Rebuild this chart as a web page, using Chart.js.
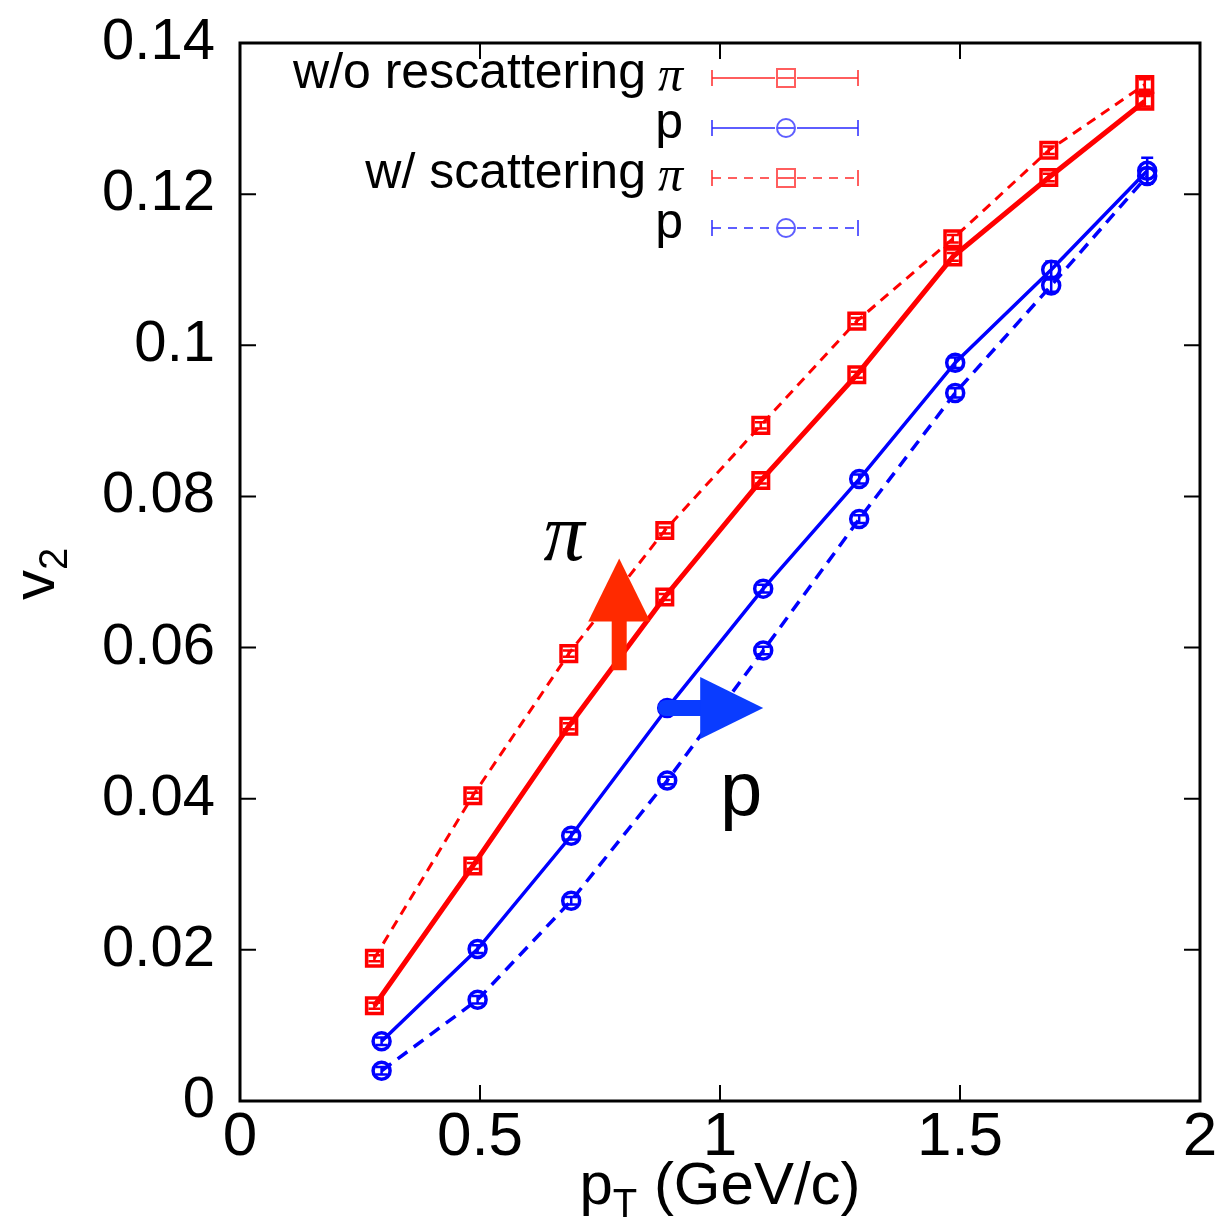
<!DOCTYPE html>
<html>
<head>
<meta charset="utf-8">
<script src="https://cdn.jsdelivr.net/npm/chart.js@4/dist/chart.umd.min.js"></script>
<style>
  html, body { margin: 0; padding: 0; background: #ffffff; }
  #wrap { width: 1228px; height: 1221px; position: relative; }
</style>
</head>
<body>
<div id="wrap"><canvas id="c"></canvas></div>
<script>
// ---- data ----
const piX = [0.28, 0.485, 0.685, 0.885, 1.085, 1.285, 1.485, 1.685, 1.885];
const pX  = [0.295, 0.495, 0.69, 0.89, 1.09, 1.29, 1.49, 1.69, 1.89];

const piNoResc   = [0.0126, 0.0311, 0.0496, 0.0667, 0.0821, 0.0961, 0.1117, 0.1222, 0.1323];
const pNoResc    = [0.0079, 0.0201, 0.0351, 0.0520, 0.0678, 0.0823, 0.0977, 0.1100, 0.1231];
const piResc     = [0.0189, 0.0404, 0.0592, 0.0755, 0.0894, 0.1032, 0.1141, 0.1258, 0.1345];
const pResc      = [0.0040, 0.0134, 0.0265, 0.0424, 0.0596, 0.0770, 0.0937, 0.1079, 0.1224];

const piNoRescErr = [0.0004, 0.0004, 0.0004, 0.0004, 0.0004, 0.0004, 0.0005, 0.0005, 0.0007];
const pNoRescErr  = [0.0005, 0.0005, 0.0005, 0.0005, 0.0005, 0.0006, 0.0007, 0.0011, 0.0017];
const piRescErr   = [0.0004, 0.0004, 0.0004, 0.0004, 0.0004, 0.0004, 0.0005, 0.0005, 0.0007];
const pRescErr    = [0.0005, 0.0005, 0.0005, 0.0005, 0.0005, 0.0005, 0.0006, 0.0008, 0.0010];

const seriesNames = ["w/o rescattering π", "w/o rescattering p", "w/ scattering π", "w/ scattering p"];
const legendGroups = ["w/o rescattering", "", "w/ scattering", ""];
const legendSpecies = ["π", "p", "π", "p"];

const xTicks = [0, 0.5, 1, 1.5, 2];
const xTickLabels = ["0", "0.5", "1", "1.5", "2"];
const yTicks = [0, 0.02, 0.04, 0.06, 0.08, 0.1, 0.12, 0.14];
const yTickLabels = ["0", "0.02", "0.04", "0.06", "0.08", "0.1", "0.12", "0.14"];

const xTitleMain = "p", xTitleSub = "T", xTitleRest = " (GeV/c)";
const yTitleMain = "v", yTitleSub = "2";

// annotations (data units)
const piArrow = { x: 0.79, yFrom: 0.0570, yTo: 0.0718 };
const pArrow  = { y: 0.0520, xFrom: 0.887, xTo: 1.09 };
const piLabel = { text: "π", x: 0.675, y: 0.0745 };
const pLabel  = { text: "p", x: 1.0, y: 0.0378 };

const RED = "#ff0000", BLUE = "#0000ff";

function pts(xs, ys) { return xs.map((x, i) => ({ x: x, y: ys[i] })); }

const datasets = [
  { label: seriesNames[0], data: pts(piX, piNoResc), err: piNoRescErr,
    borderColor: RED, borderWidth: 5, pointStyle: 'rect', pointRadius: 11,
    pointBorderWidth: 3.5, pointBorderColor: RED, pointBackgroundColor: 'rgba(0,0,0,0)',
    showLine: true, order: 2, legendDash: [] },
  { label: seriesNames[1], data: pts(pX, pNoResc), err: pNoRescErr,
    borderColor: BLUE, borderWidth: 3.5, pointStyle: 'circle', pointRadius: 8.5,
    pointBorderWidth: 3.5, pointBorderColor: BLUE, pointBackgroundColor: 'rgba(0,0,0,0)',
    showLine: true, order: 1, legendDash: [] },
  { label: seriesNames[2], data: pts(piX, piResc), err: piRescErr,
    borderColor: RED, borderWidth: 3, borderDash: [10, 7], pointStyle: 'rect', pointRadius: 11,
    pointBorderWidth: 3.5, pointBorderColor: RED, pointBackgroundColor: 'rgba(0,0,0,0)',
    showLine: true, order: 3, legendDash: [9, 7] },
  { label: seriesNames[3], data: pts(pX, pResc), err: pRescErr,
    borderColor: BLUE, borderWidth: 3.5, borderDash: [12, 8], pointStyle: 'circle', pointRadius: 8.5,
    pointBorderWidth: 3.5, pointBorderColor: BLUE, pointBackgroundColor: 'rgba(0,0,0,0)',
    showLine: true, order: 4, legendDash: [9, 7] }
];

const decorPlugin = {
  id: 'decor',
  beforeDatasetsDraw(chart) {
    const ctx = chart.ctx, xs = chart.scales.x, ys = chart.scales.y;
    chart.data.datasets.forEach(ds => {
      ctx.save();
      ctx.strokeStyle = ds.borderColor;
      ctx.lineWidth = 2.5;
      ds.data.forEach((p, i) => {
        const e = ds.err[i];
        const px = xs.getPixelForValue(p.x);
        const y1 = ys.getPixelForValue(p.y - e), y2 = ys.getPixelForValue(p.y + e);
        ctx.beginPath();
        ctx.moveTo(px, y1); ctx.lineTo(px, y2);
        ctx.moveTo(px - 6, y1); ctx.lineTo(px + 6, y1);
        ctx.moveTo(px - 6, y2); ctx.lineTo(px + 6, y2);
        ctx.stroke();
      });
      ctx.restore();
    });
  },
  afterDraw(chart) {
    const ctx = chart.ctx, a = chart.chartArea, xs = chart.scales.x, ys = chart.scales.y;
    ctx.save();
    ctx.strokeStyle = '#000';
    ctx.lineWidth = 3;
    ctx.strokeRect(a.left, a.top, a.right - a.left, a.bottom - a.top);
    ctx.lineWidth = 2;
    const tl = 16;
    xs.ticks.forEach(t => {
      const px = xs.getPixelForValue(t.value);
      ctx.beginPath();
      ctx.moveTo(px, a.bottom); ctx.lineTo(px, a.bottom - tl);
      ctx.moveTo(px, a.top); ctx.lineTo(px, a.top + tl);
      ctx.stroke();
    });
    ys.ticks.forEach(t => {
      const py = ys.getPixelForValue(t.value);
      ctx.beginPath();
      ctx.moveTo(a.left, py); ctx.lineTo(a.left + tl, py);
      ctx.moveTo(a.right, py); ctx.lineTo(a.right - tl, py);
      ctx.stroke();
    });

    // axis titles with subscripts
    ctx.fillStyle = '#000';
    ctx.textBaseline = 'alphabetic';
    ctx.textAlign = 'left';
    const mainF = '60px "Liberation Sans", Arial, sans-serif';
    const subF = '40px "Liberation Sans", Arial, sans-serif';
    ctx.font = mainF; const w1 = ctx.measureText(xTitleMain).width;
    ctx.font = subF; const w2 = ctx.measureText(xTitleSub).width;
    ctx.font = mainF; const w3 = ctx.measureText(xTitleRest).width;
    const cx = (a.left + a.right) / 2;
    let sx = cx - (w1 + w2 + w3) / 2;
    const by = 1204;
    ctx.font = mainF; ctx.fillText(xTitleMain, sx, by);
    ctx.font = subF; ctx.fillText(xTitleSub, sx + w1, by + 13);
    ctx.font = mainF; ctx.fillText(xTitleRest, sx + w1 + w2, by);

    ctx.save();
    ctx.translate(54, (a.top + a.bottom) / 2 + 2);
    ctx.rotate(-Math.PI / 2);
    const vF = '60px "Liberation Sans", Arial, sans-serif';
    const v2F = '40px "Liberation Sans", Arial, sans-serif';
    ctx.font = vF; const vw = ctx.measureText(yTitleMain).width;
    ctx.font = v2F; const v2w = ctx.measureText(yTitleSub).width;
    ctx.font = vF; ctx.fillText(yTitleMain, -(vw + v2w) / 2, 0);
    ctx.font = v2F; ctx.fillText(yTitleSub, -(vw + v2w) / 2 + vw, 13);
    ctx.restore();

    // legend
    const rowY0 = a.top + 35, rowH = 50;
    const textRight = 683, lx0 = 712, lx1 = 858, lmid = 786;
    chart.data.datasets.forEach((ds, i) => {
      const y = rowY0 + i * rowH;
      ctx.fillStyle = '#000';
      ctx.textAlign = 'right';
      ctx.textBaseline = 'middle';
      const isPi = legendSpecies[i] === 'π';
      ctx.font = isPi ? 'italic 50px "Liberation Serif", "Times New Roman", serif'
                      : '50px "Liberation Sans", Arial, sans-serif';
      ctx.fillText(legendSpecies[i], textRight, y + (isPi ? 0 : -4));
      const sw = ctx.measureText(legendSpecies[i]).width;
      if (legendGroups[i]) {
        ctx.font = '50px "Liberation Sans", Arial, sans-serif';
        ctx.fillText(legendGroups[i], textRight - sw - 12, y - 4);
      }
      const col = ds.borderColor === RED ? 'rgba(255,40,40,0.75)' : 'rgba(40,40,255,0.75)';
      ctx.strokeStyle = col;
      ctx.lineWidth = 2;
      ctx.setLineDash(ds.legendDash);
      ctx.beginPath();
      ctx.moveTo(lx0, y); ctx.lineTo(lmid - 11, y);
      ctx.moveTo(lmid + 11, y); ctx.lineTo(lx1, y);
      ctx.stroke();
      ctx.setLineDash([]);
      ctx.beginPath();
      ctx.moveTo(lx0, y - 8); ctx.lineTo(lx0, y + 8);
      ctx.moveTo(lx1, y - 8); ctx.lineTo(lx1, y + 8);
      ctx.stroke();
      ctx.beginPath();
      if (ds.pointStyle === 'rect') {
        ctx.rect(lmid - 9, y - 9, 18, 18);
      } else {
        ctx.arc(lmid, y, 9, 0, Math.PI * 2);
      }
      ctx.moveTo(lmid - 9, y); ctx.lineTo(lmid + 9, y);
      ctx.stroke();
    });

    // red arrow (up)
    const rx = xs.getPixelForValue(piArrow.x);
    const ry0 = ys.getPixelForValue(piArrow.yFrom), ry1 = ys.getPixelForValue(piArrow.yTo);
    ctx.fillStyle = '#ff2a00';
    ctx.fillRect(rx - 7.5, ry1 + 60, 15, ry0 - (ry1 + 60));
    ctx.beginPath();
    ctx.moveTo(rx, ry1);
    ctx.lineTo(rx + 31, ry1 + 63);
    ctx.lineTo(rx - 31, ry1 + 63);
    ctx.closePath();
    ctx.fill();

    // blue arrow (right)
    const bx0 = xs.getPixelForValue(pArrow.xFrom), bx1 = xs.getPixelForValue(pArrow.xTo);
    const byy = ys.getPixelForValue(pArrow.y);
    ctx.fillStyle = '#0a3cff';
    ctx.strokeStyle = '#0a3cff';
    ctx.lineWidth = 16;
    ctx.lineCap = 'round';
    ctx.beginPath();
    ctx.moveTo(bx0, byy); ctx.lineTo(bx1 - 58, byy);
    ctx.stroke();
    ctx.lineCap = 'butt';
    ctx.beginPath();
    ctx.moveTo(bx1, byy);
    ctx.lineTo(bx1 - 63, byy - 31);
    ctx.lineTo(bx1 - 63, byy + 31);
    ctx.closePath();
    ctx.fill();

    // annotation labels
    ctx.fillStyle = '#000';
    ctx.textAlign = 'center';
    ctx.textBaseline = 'middle';
    ctx.font = 'italic 82px "Liberation Serif", "Times New Roman", serif';
    ctx.fillText(piLabel.text, xs.getPixelForValue(piLabel.x), ys.getPixelForValue(piLabel.y));
    ctx.textAlign = 'left';
    ctx.textBaseline = 'alphabetic';
    ctx.font = '76px "Liberation Sans", Arial, sans-serif';
    ctx.fillText(pLabel.text, xs.getPixelForValue(pLabel.x), ys.getPixelForValue(pLabel.y));
    ctx.restore();
  }
};

new Chart(document.getElementById('c'), {
  type: 'scatter',
  data: { datasets: datasets },
  options: {
    responsive: true,
    maintainAspectRatio: false,
    animation: false,
    layout: { padding: { top: 43, right: 28, left: 0, bottom: 0 } },
    plugins: { legend: { display: false }, tooltip: { enabled: false } },
    scales: {
      x: {
        type: 'linear', min: 0, max: 2,
        afterFit: s => { s.height = 120; s.paddingLeft = 0; s.paddingRight = 0; },
        afterBuildTicks: s => { s.ticks = xTicks.map(v => ({ value: v })); },
        grid: { display: false, drawTicks: false },
        border: { display: false },
        ticks: {
          padding: 0, color: '#000',
          font: { family: '"Liberation Sans", Arial, sans-serif', size: 62 },
          maxRotation: 0, autoSkip: false,
          callback: (v, i) => xTickLabels[i]
        }
      },
      y: {
        type: 'linear', min: 0, max: 0.14,
        afterFit: s => { s.width = 240; s.paddingTop = 0; s.paddingBottom = 0; },
        afterBuildTicks: s => { s.ticks = yTicks.map(v => ({ value: v })); },
        grid: { display: false, drawTicks: false },
        border: { display: false },
        ticks: {
          padding: 25, color: '#000',
          font: { family: '"Liberation Sans", Arial, sans-serif', size: 58 },
          autoSkip: false,
          callback: (v, i) => yTickLabels[i]
        }
      }
    }
  },
  plugins: [decorPlugin]
});
</script>
</body>
</html>
